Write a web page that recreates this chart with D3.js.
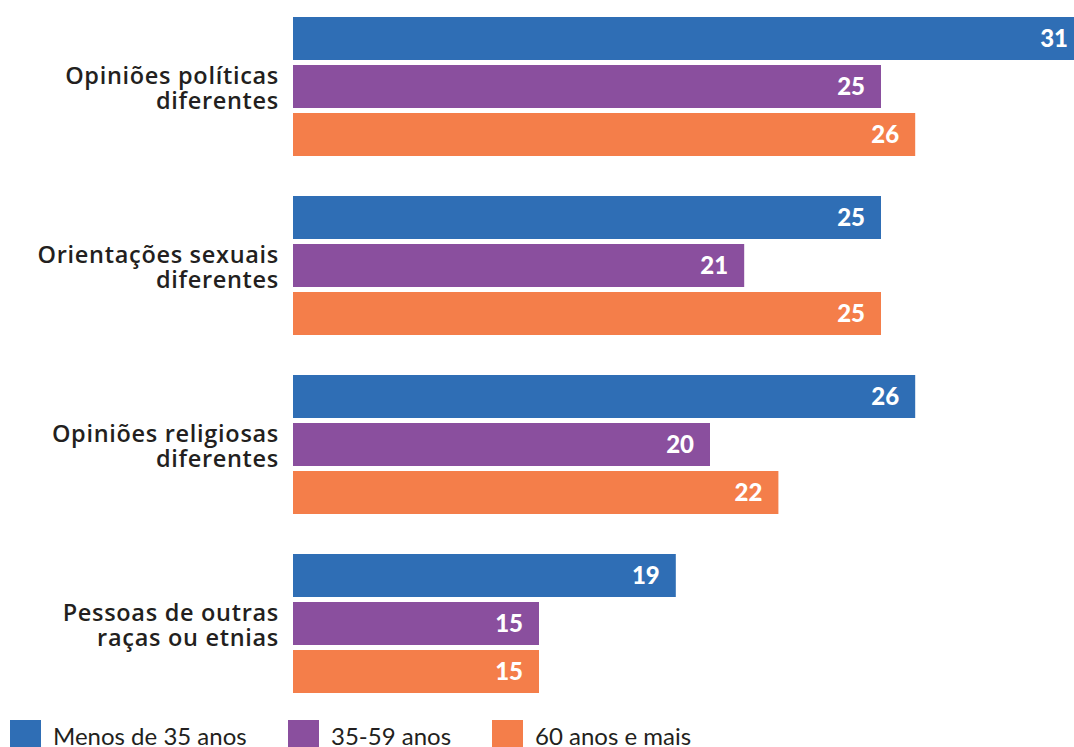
<!DOCTYPE html>
<html><head><meta charset="utf-8">
<script src="https://cdn.jsdelivr.net/npm/d3@7"></script>
<style>body{margin:0;background:#fff}svg{display:block}</style>
</head><body>
<svg id="c" width="1074" height="747"></svg>
<script>
const categories = [
  ["Opiniões políticas", "diferentes"],
  ["Orientações sexuais", "diferentes"],
  ["Opiniões religiosas", "diferentes"],
  ["Pessoas de outras", "raças ou etnias"]
];
const seriesNames = ["Menos de 35 anos", "35-59 anos", "60 anos e mais"];
const seriesColors = ["#2F6EB5", "#8A4F9E", "#F47E4A"];
const under35 = [31, 25, 26, 19];
const age35to59 = [25, 21, 20, 15];
const over60 = [26, 25, 22, 15];
const seriesValues = [under35, age35to59, over60];

const svg = d3.select("#c");
const catIdx = categories.map((d, i) => i);

const x = d3.scaleLinear().domain([0, 31]).range([26, 26 + 31 * 34.2]);
const y0 = d3.scaleBand().domain(catIdx).range([17, 693]).paddingInner(40 / 179).paddingOuter(0);
const y1 = d3.scaleBand().domain([0, 1, 2]).range([0, y0.bandwidth()]).paddingInner(5 / 48).paddingOuter(0);

svg.append("defs").append("clipPath").attr("id", "clip")
  .append("rect").attr("x", 293).attr("y", 0).attr("width", 1074 - 293).attr("height", 747);

const data = [];
catIdx.forEach(ci => seriesValues.forEach((arr, si) => data.push({ci, si, v: arr[ci]})));

const bars = svg.append("g").attr("clip-path", "url(#clip)");
bars.selectAll("rect").data(data).enter().append("rect")
  .attr("x", x(0))
  .attr("y", d => y0(d.ci) + y1(d.si))
  .attr("width", d => x(d.v) - x(0))
  .attr("height", y1.bandwidth())
  .attr("fill", d => seriesColors[d.si]);

svg.append("g").selectAll("text").data(data).enter().append("text")
  .attr("x", d => Math.min(x(d.v), 1084) - 16)
  .attr("y", d => y0(d.ci) + y1(d.si) + y1.bandwidth() / 2)
  .attr("dy", "0.36em")
  .attr("text-anchor", "end")
  .attr("fill", "#fff")
  .attr("font-family", "Lato, 'Open Sans', sans-serif")
  .attr("font-weight", "900")
  .attr("font-size", 24)
  .text(d => d.v);

const labels = svg.append("g").selectAll("text").data(categories).enter().append("text")
  .attr("text-anchor", "end")
  .attr("font-family", "'Open Sans', sans-serif")
  .attr("font-weight", "600")
  .attr("font-size", 23.5)
  .attr("letter-spacing", 0.7)
  .attr("fill", "#231f20");
labels.each(function(d, i) {
  const cy = y0(i) + y0.bandwidth() / 2;
  d3.select(this).selectAll("tspan").data(d).enter().append("tspan")
    .attr("x", 279)
    .attr("y", (t, j) => cy + (j === 0 ? -2.5 : 22.5))
    .text(t => t);
});

const legX = [10, 288, 492];
const leg = svg.append("g").selectAll("g").data(seriesNames).enter().append("g")
  .attr("transform", (d, i) => `translate(${legX[i]},720)`);
leg.append("rect").attr("width", 31).attr("height", 30).attr("fill", (d, i) => seriesColors[i]);
leg.append("text").attr("x", 43).attr("y", 24.5)
  .attr("font-family", "Lato, 'Open Sans', sans-serif")
  .attr("font-size", 24).attr("fill", "#231f20")
  .text(d => d);
</script>
</body></html>
